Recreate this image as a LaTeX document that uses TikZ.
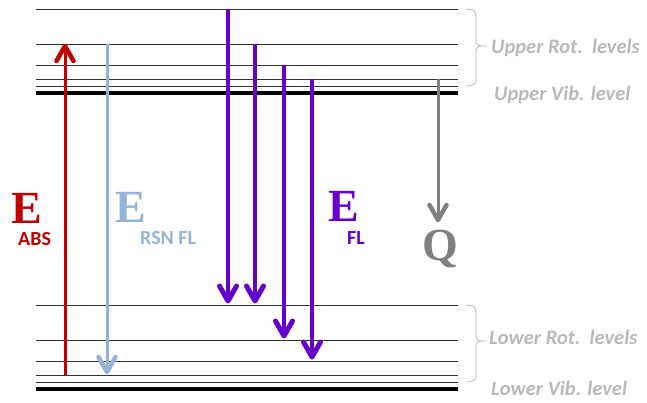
\documentclass[tikz,border=0pt]{standalone}
\usepackage{fontspec}
\setmainfont{Liberation Serif}
\newfontfamily\calib{Carlito}
\definecolor{absred}{RGB}{192,0,0}
\definecolor{rsnblue}{RGB}{149,179,215}
\definecolor{flpurple}{RGB}{102,0,204}
\definecolor{qgray}{RGB}{128,128,128}
\definecolor{lblgray}{RGB}{185,185,185}
\tikzset{
  lvl/.style={line width=1pt, black!80},
  vib/.style={line width=4pt, black},
  trans/.style={line width=#1, line join=round, line cap=butt},
  bigE/.style={font=\fontsize{46}{46}\selectfont\bfseries, inner sep=0pt, anchor=base west},
  subl/.style={font=\calib\fontsize{20}{20}\selectfont\bfseries, inner sep=0pt, anchor=base west},
  side/.style={font=\calib\fontsize{20.5}{20.5}\selectfont\bfseries\itshape, text=lblgray, inner sep=0pt, anchor=base west},
  brc/.style={draw=lblgray, line width=0.8pt}
}
% V-shaped head at #1; #2=1 points down, #2=-1 points up; #3 = head line width
\newcommand{\vhead}[3]{%
  \draw[line width=#3, line join=round, line cap=round]
    ([xshift=-8.5pt,yshift=#2*15pt]#1) -- (#1) -- ([xshift=8.5pt,yshift=#2*15pt]#1);}
\begin{document}
\begin{tikzpicture}[x=1pt,y=-1pt]
\useasboundingbox (0,0) rectangle (647,402);
% upper levels
\foreach \n/\y in {u1/9,u2/44,u3/65,u4/79,u5/86}{
  \coordinate (\n L) at (36,\y); \coordinate (\n R) at (458,\y);
  \draw[lvl] (\n L) -- (\n R);
}
\coordinate (uvL) at (36,93); \coordinate (uvR) at (458,93);
\draw[vib] (uvL) -- (uvR);
% lower levels
\foreach \n/\y in {l1/305,l2/340,l3/361,l4/375,l5/382}{
  \coordinate (\n L) at (36,\y); \coordinate (\n R) at (458,\y);
  \draw[lvl] (\n L) -- (\n R);
}
\coordinate (lvL) at (36,389); \coordinate (lvR) at (458,389);
\draw[vib] (lvL) -- (lvR);
% transitions
\coordinate (aS) at (65,375); \coordinate (aE) at (65,46);
\begin{scope}[trans=3pt, absred]
  \draw (aS) -- (aE); \vhead{aE}{-1}{4.5pt}
\end{scope}
\coordinate (bS) at (107,44); \coordinate (bE) at (107,372);
\begin{scope}[trans=3pt, rsnblue]
  \draw (bS) -- (bE); \vhead{bE}{1}{4.5pt}
\end{scope}
\coordinate (f1S) at (228,9); \coordinate (f1E) at (228,301);
\coordinate (f2S) at (255,44); \coordinate (f2E) at (255,301);
\coordinate (f3S) at (284,65); \coordinate (f3E) at (284,336);
\coordinate (f4S) at (312,79); \coordinate (f4E) at (312,357);
\begin{scope}[trans=4pt, flpurple]
\foreach \i in {1,...,4}{\draw (f\i S) -- (f\i E); \vhead{f\i E}{1}{5pt}}
\end{scope}
\coordinate (qS) at (438,79); \coordinate (qE) at (438,220);
\begin{scope}[trans=3pt, qgray]
  \draw (qS) -- (qE); \vhead{qE}{1}{4.5pt}
\end{scope}
% labels
\node[bigE, text=absred] (eabs) at (11,223) {E};
\node[subl, text=absred] (abs) at (18,245) {ABS};
\node[bigE, text=rsnblue] (ersn) at (115,222) {E};
\node[subl, text=rsnblue] (rsn) at (140,244) {RSN FL};
\node[bigE, text=flpurple] (efl) at (328,221) {E};
\node[subl, text=flpurple] (fl) at (347,244) {FL};
\node[bigE, text=qgray] (q) at (422,260) {Q};
% braces
\draw[brc] (466,9) .. controls (473,9) and (476,11) .. (476,16) -- (476,40)
  .. controls (476,44) and (477,46) .. (482,46) -- (487,46)
  (482,46) .. controls (477,46) and (476,48) .. (476,52) -- (476,80)
  .. controls (476,84) and (473,86) .. (466,86);
\draw[brc] (466,305) .. controls (473,305) and (476,307) .. (476,312) -- (476,335)
  .. controls (476,339) and (477,341) .. (482,341) -- (487,341)
  (482,341) .. controls (477,341) and (476,343) .. (476,347) -- (476,376)
  .. controls (476,380) and (473,382) .. (466,382);
\node[side] (urot) at (491,53) {Upper Rot.\ \ levels};
\node[side] (uvib) at (494,100) {Upper Vib. level};
\node[side] (lrot) at (489,344) {Lower Rot.\ \ levels};
\node[side] (lvib) at (491,395) {Lower Vib. level};
\end{tikzpicture}
\end{document}
